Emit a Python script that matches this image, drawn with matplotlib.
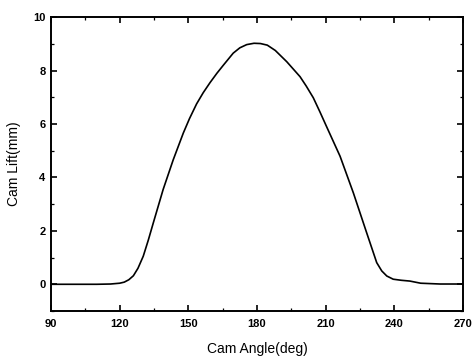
import matplotlib
matplotlib.use("Agg")
import matplotlib.pyplot as plt
from matplotlib.ticker import MultipleLocator

angle = [90, 100, 110, 116, 120, 122, 124, 126, 128, 130.3, 132.5, 134.7, 139, 143.4, 147.8,
         150.5, 153.6, 156.5, 159.5, 162.5, 165.3, 169.6, 172.5, 175.5, 178.7, 181.5, 184.5,
         188, 193, 198.8, 201.5, 204.6, 207.5, 210.4, 216.3, 222.1, 227.9, 232.3, 234.5,
         236.7, 239.5, 243, 246.8, 251.5, 260, 270]
lift = [0, 0, 0, 0.01, 0.04, 0.08, 0.17, 0.32, 0.6, 1.05, 1.65, 2.3, 3.55, 4.66, 5.66,
        6.2, 6.75, 7.17, 7.55, 7.9, 8.2, 8.65, 8.85, 8.97, 9.02, 9.01, 8.95,
        8.75, 8.33, 7.77, 7.42, 6.98, 6.45, 5.9, 4.79, 3.42, 1.93, 0.81, 0.5,
        0.31, 0.19, 0.15, 0.12, 0.04, 0.01, 0.01]

xticks = [90, 120, 150, 180, 210, 240, 270]
yticks = [0, 2, 4, 6, 8, 10]

plt.rcParams['font.family'] = ['Liberation Sans', 'DejaVu Sans']

fig = plt.figure(figsize=(4.74, 3.56), dpi=100)
ax = fig.add_axes([0.1076, 0.1264, 0.8692, 0.8256])
ax.plot(angle, lift, color='black', lw=1.2)
ax.set_xlim(90, 270)
ax.set_ylim(-1, 10)
ax.set_xticks(xticks)
ax.set_yticks(yticks)
ax.xaxis.set_minor_locator(MultipleLocator(15))
ax.yaxis.set_minor_locator(MultipleLocator(1))
ax.tick_params(which='both', direction='in', top=True, right=True)
ax.tick_params(which='major', length=4, width=1.2)
ax.tick_params(which='minor', length=2.5, width=0.9)
ax.tick_params(axis='x', which='major', pad=5.5)
ax.tick_params(axis='y', which='major', pad=4)
for lab in ax.get_xticklabels() + ax.get_yticklabels():
    lab.set_fontsize(8)
    lab.set_fontweight('bold')
for s in ax.spines.values():
    s.set_linewidth(1.4)
ax.set_xlabel('Cam Angle(deg)', fontsize=10)
ax.set_ylabel('Cam Lift(mm)', fontsize=10)
ax.xaxis.set_label_coords(0.5, -0.105)
ax.yaxis.set_label_coords(-0.072, 0.5)
fig.savefig('out.png', dpi=100)
